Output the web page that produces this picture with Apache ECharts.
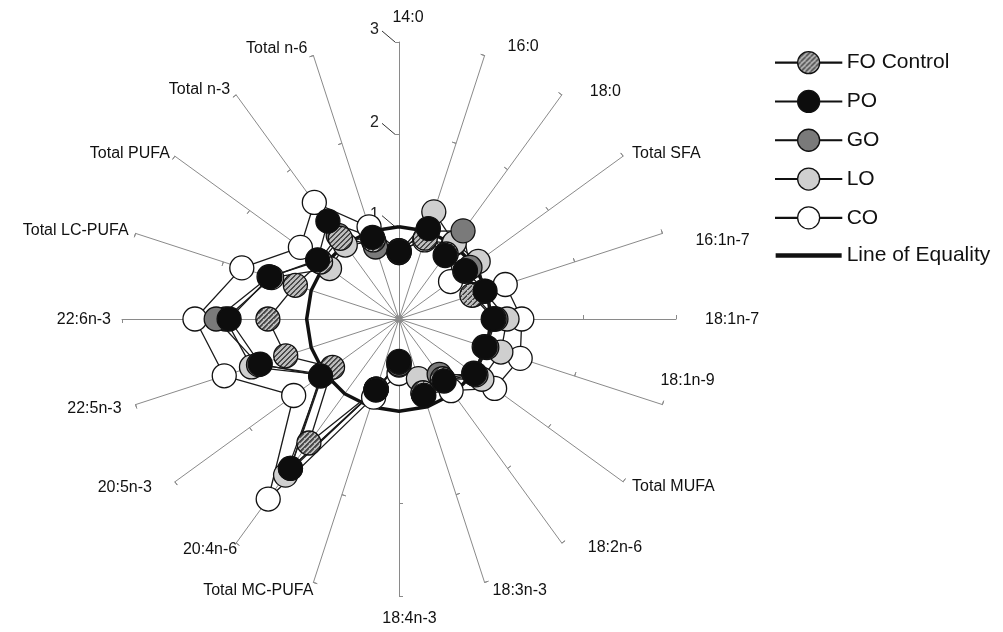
<!DOCTYPE html>
<html>
<head>
<meta charset="utf-8">
<script src="https://cdn.jsdelivr.net/npm/echarts@6/dist/echarts.min.js"></script>
<style>
  html, body { margin: 0; padding: 0; background: #fff; }
  #chart { width: 1003px; height: 632px; }
</style>
</head>
<body>
<div id="chart"></div>
<script>
// Fatty acid axes, clockwise from the top
const categories = ['14:0', '16:0', '18:0', 'Total SFA', '16:1n-7', '18:1n-7', '18:1n-9', 'Total MUFA',
  '18:2n-6', '18:3n-3', '18:4n-3', 'Total MC-PUFA', '20:4n-6', '20:5n-3', '22:5n-3', '22:6n-3',
  'Total LC-PUFA', 'Total PUFA', 'Total n-3', 'Total n-6'];

// Relative values per diet
const foControl = [0.72, 0.92, 0.87, 0.88, 0.83, 1.03, 0.97, 1.00, 0.80, 0.84, 0.47, 0.80, 1.66, 0.89, 1.29, 1.42, 1.18, 1.05, 1.08, 0.90];
const po        = [0.73, 1.03, 0.85, 0.89, 0.98, 1.02, 0.98, 1.01, 0.83, 0.87, 0.46, 0.81, 2.00, 1.05, 1.58, 1.84, 1.47, 1.09, 1.31, 0.93];
const go        = [0.74, 1.00, 1.18, 0.95, 0.85, 1.05, 1.00, 1.03, 0.74, 0.85, 0.49, 0.80, 2.00, 1.02, 1.60, 1.98, 1.48, 1.07, 1.12, 0.82];
const lo        = [0.72, 1.22, 1.02, 1.06, 0.97, 1.17, 1.16, 1.11, 0.80, 0.68, 0.50, 0.80, 2.09, 1.03, 1.68, 1.88, 1.45, 0.93, 0.99, 0.88];
const co        = [0.74, 0.90, 1.00, 0.69, 1.21, 1.33, 1.38, 1.28, 0.96, 0.85, 0.59, 0.89, 2.41, 1.41, 1.99, 2.21, 1.79, 1.32, 1.56, 1.05];
const equality  = categories.map(() => 1);

const seriesNames = ['FO Control', 'PO', 'GO', 'LO', 'CO', 'Line of Equality'];
const axisMax = 3;

// Radar geometry
const CX = 399, CY = 319, R = 277;
const FONT = 'Liberation Sans, Arial, sans-serif';

// ECharts lays radar axes out anticlockwise, so feed them in reverse after the first
const order = [0].concat(categories.map((_, i) => categories.length - 1 - i).slice(0, categories.length - 1));
const reorder = arr => order.map(i => arr[i]);

// Axis title offsets [dx, dy] from each axis end (clockwise order)
const nameNudge = [[9, -24.5], [23, -8.6], [28, -3], [9, -3], [33, 7], [29, 1], [-2, -24], [9, 5], [26, 4], [8, 8],
  [10.5, 23], [0, 8], [1, 6], [-23, 6], [-14, 4], [-11, 1], [-7, -3], [-5, -3], [-6, -5], [-6, -7]];

const axisTitles = categories.map((name, i) => {
  const a = i * Math.PI / 10;
  const s = Math.sin(a);
  const ex = CX + R * s, ey = CY - R * Math.cos(a);
  const align = Math.abs(s) < 1e-6 ? 'center' : (s > 0 ? 'left' : 'right');
  return {
    type: 'text', silent: true,
    style: {
      text: name, x: ex + nameNudge[i][0], y: ey + nameNudge[i][1],
      align: align, verticalAlign: 'middle',
      font: '16px ' + FONT, fill: '#111'
    }
  };
});

// Diagonal hatch fill for the control diet; markers are drawn at unit size and scaled up,
// so their copy of the pattern is scaled back down
function hatchPattern(tile, scale) {
  const c = document.createElement('canvas');
  c.width = tile; c.height = tile;
  const g = c.getContext('2d');
  g.fillStyle = '#bdbdbd';
  g.fillRect(0, 0, tile, tile);
  g.strokeStyle = '#4a4a4a';
  g.lineWidth = tile * 0.32;
  for (let k = -1; k <= 1; k++) {
    g.beginPath();
    g.moveTo(k * tile, tile);
    g.lineTo(k * tile + tile, 0);
    g.stroke();
  }
  return { image: c, repeat: 'repeat', scaleX: scale, scaleY: scale };
}
const SYMBOL_SIZE = 24;
const hatchMarker = hatchPattern(60, 5 / 60 / (SYMBOL_SIZE / 2));
const hatchLegend = hatchPattern(5, 1);

const fills = {
  'FO Control': hatchLegend,
  'PO': '#0d0d0d',
  'GO': '#7a7a7a',
  'LO': '#cfcfcf',
  'CO': '#ffffff'
};
const markerFills = Object.assign({}, fills, { 'FO Control': hatchMarker });
const values = { 'FO Control': foControl, 'PO': po, 'GO': go, 'LO': lo, 'CO': co };

const indicators = order.map(i => {
  const ind = { name: categories[i], min: 0, max: axisMax };
  if (i === 0) {
    ind.axisLabel = { show: true, showMinLabel: false, fontSize: 16, color: '#222',
      fontFamily: FONT, margin: 20, verticalAlign: 'bottom', padding: [0, 0, 4, 0] };
  }
  return ind;
});

const dietSeries = ['CO', 'LO', 'GO', 'FO Control', 'PO'].map(name => ({
  type: 'radar',
  radarIndex: 0,
  name: name,
  symbol: 'circle',
  symbolSize: SYMBOL_SIZE,
  itemStyle: { color: markerFills[name], borderColor: '#111', borderWidth: 1.3, opacity: 1 },
  lineStyle: { color: '#1a1a1a', width: 1.3 },
  data: [{ name: name, value: reorder(values[name]) }],
  z: 3
}));

const lineIcon = 'path://M0,10.6L22,10.6L22,11.4L0,11.4Z M44,10.6L66,10.6L66,11.4L44,11.4Z M22,11A11,11 0 1,0 44,11A11,11 0 1,0 22,11Z';

// Short leader strokes from the value labels on the top axis
const leaders = [];
for (let v = 1; v <= axisMax; v++) {
  const y = CY - v * R / axisMax;
  leaders.push({
    type: 'line', silent: true,
    shape: { x1: CX - 17, y1: y - 11, x2: CX - 4, y2: y },
    style: { stroke: '#333', lineWidth: 1 }
  });
}

const chart = echarts.init(document.getElementById('chart'), null, { renderer: 'canvas' });
chart.setOption({
  animation: false,
  backgroundColor: '#fff',
  textStyle: { fontFamily: FONT },
  legend: {
    orient: 'vertical',
    left: 775,
    top: 51,
    padding: 0,
    itemWidth: 66,
    itemHeight: 22,
    itemGap: 15.5,
    selectedMode: false,
    textStyle: { fontSize: 21, color: '#111', fontFamily: FONT },
    data: seriesNames.map(name => name === 'Line of Equality'
      ? { name: name, icon: 'path://M0,0L62,0L62,4L0,4Z', itemStyle: { color: '#111', borderWidth: 0 } }
      : { name: name, icon: lineIcon, itemStyle: { color: fills[name], borderColor: '#111', borderWidth: 1.3 } })
  },
  radar: [{
    center: [CX, CY],
    radius: R,
    startAngle: 90,
    shape: 'polygon',
    splitNumber: 3,
    indicator: indicators,
    axisName: { show: false },
    axisLine: { show: true, lineStyle: { color: '#8a8a8a', width: 1 } },
    axisTick: { show: true, length: 4, lineStyle: { color: '#8a8a8a', width: 1 } },
    axisLabel: { show: false },
    splitLine: { show: false },
    splitArea: { show: false }
  }, {
    center: [CX, CY],
    radius: R,
    startAngle: 90,
    shape: 'polygon',
    splitNumber: 3,
    indicator: order.map(i => ({ name: categories[i], min: 0, max: axisMax })),
    axisName: { show: false },
    axisLine: { show: false },
    axisTick: { show: true, inside: true, length: 4, lineStyle: { color: '#8a8a8a', width: 1 } },
    axisLabel: { show: false },
    splitLine: { show: false },
    splitArea: { show: false }
  }],
  graphic: leaders.concat(axisTitles),
  series: [{
    type: 'radar',
    radarIndex: 0,
    name: 'Line of Equality',
    symbol: 'none',
    itemStyle: { color: '#111' },
    lineStyle: { color: '#111', width: 3.5 },
    data: [{ name: 'Line of Equality', value: equality }],
    z: 2
  }].concat(dietSeries)
});
</script>
</body>
</html>
